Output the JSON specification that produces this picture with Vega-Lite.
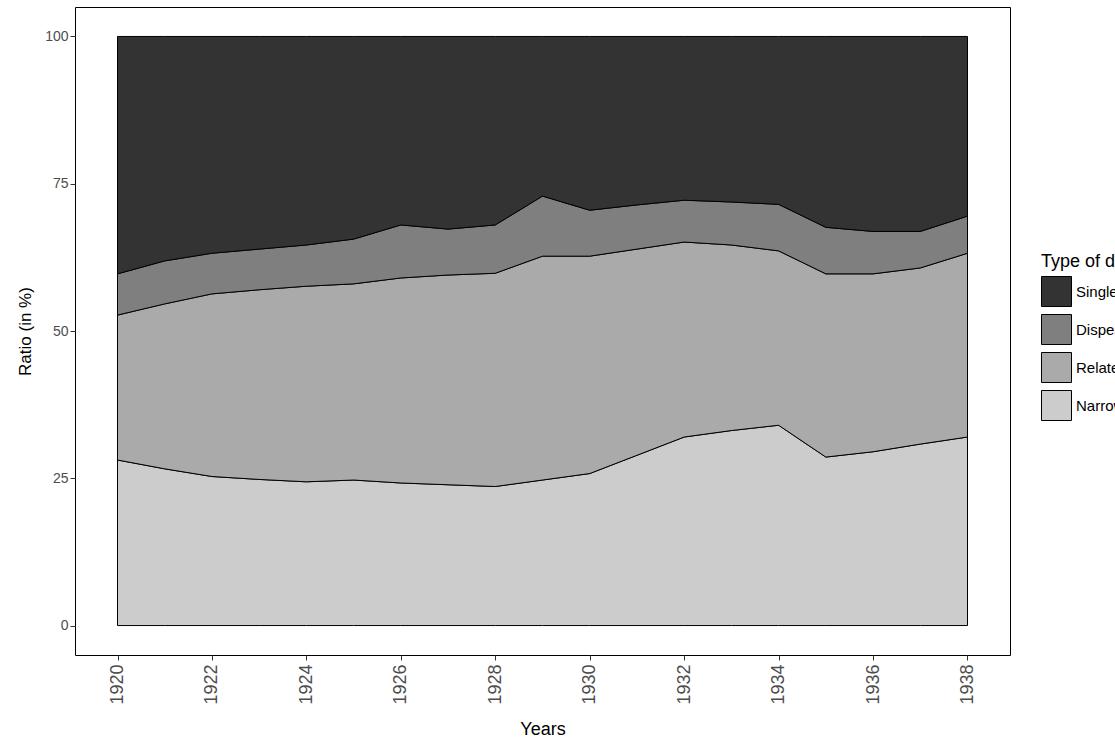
{
"$schema":"https://vega.github.io/schema/vega-lite/v6.json",
"width":935,"height":648,
"padding":{"left":16,"top":7,"right":0,"bottom":0},
"background":"white",
"config":{"view":{"stroke":"black","strokeWidth":1},"font":"Liberation Sans"},
"data":{"values":[
{"year":1920,"Na":28.1,"Re":24.6,"Dis":7.0,"Sin":40.3},
{"year":1921,"Na":26.6,"Re":28.0,"Dis":7.3,"Sin":38.1},
{"year":1922,"Na":25.3,"Re":31.0,"Dis":6.9,"Sin":36.8},
{"year":1923,"Na":24.8,"Re":32.2,"Dis":6.9,"Sin":36.1},
{"year":1924,"Na":24.4,"Re":33.2,"Dis":7.0,"Sin":35.4},
{"year":1925,"Na":24.7,"Re":33.3,"Dis":7.6,"Sin":34.4},
{"year":1926,"Na":24.2,"Re":34.8,"Dis":9.0,"Sin":32.0},
{"year":1927,"Na":23.9,"Re":35.6,"Dis":7.8,"Sin":32.7},
{"year":1928,"Na":23.6,"Re":36.2,"Dis":8.2,"Sin":32.0},
{"year":1929,"Na":24.7,"Re":38.0,"Dis":10.2,"Sin":27.1},
{"year":1930,"Na":25.8,"Re":36.9,"Dis":7.8,"Sin":29.5},
{"year":1931,"Na":28.9,"Re":35.0,"Dis":7.5,"Sin":28.6},
{"year":1932,"Na":32.0,"Re":33.1,"Dis":7.1,"Sin":27.8},
{"year":1933,"Na":33.1,"Re":31.5,"Dis":7.3,"Sin":28.1},
{"year":1934,"Na":34.0,"Re":29.6,"Dis":7.9,"Sin":28.5},
{"year":1935,"Na":28.6,"Re":31.1,"Dis":7.9,"Sin":32.4},
{"year":1936,"Na":29.5,"Re":30.2,"Dis":7.2,"Sin":33.1},
{"year":1937,"Na":30.8,"Re":29.9,"Dis":6.2,"Sin":33.1},
{"year":1938,"Na":32.0,"Re":31.2,"Dis":6.3,"Sin":30.5}
]},
"transform":[
{"fold":["Na","Re","Dis","Sin"],"as":["k","value"]},
{"lookup":"k","from":{"data":{"values":[
{"k":"Na","type":"Narrow","ord":1},{"k":"Re","type":"Related","ord":2},
{"k":"Dis","type":"Dispersed","ord":3},{"k":"Sin","type":"Single","ord":4}]},"key":"k","fields":["type","ord"]}}
],
"mark":{"type":"area","stroke":"black","strokeWidth":1,"opacity":1},
"encoding":{
"x":{"field":"year","type":"quantitative","scale":{"domain":[1919.1,1938.9],"nice":false,"zero":false},
 "axis":{"values":[1920,1922,1924,1926,1928,1930,1932,1934,1936,1938],"format":"d","labelAngle":-90,"labelAlign":"right","labelBaseline":"middle","labelFontSize":18,"labelColor":"#4d4d4d","title":"Years","titleFontSize":18,"titleFontWeight":"normal","titleColor":"black","grid":false,"domain":false,"tickColor":"#333","tickSize":5,"labelPadding":4,"titlePadding":16}},
"y":{"field":"value","type":"quantitative","stack":"zero","scale":{"domain":[-5,105],"nice":false},
 "axis":{"values":[0,25,50,75,100],"labelFontSize":14,"labelColor":"#4d4d4d","title":"Ratio (in %)","titleFontSize":17,"titleFontWeight":"normal","titleColor":"black","grid":false,"domain":false,"tickColor":"#333","tickSize":5,"titlePadding":10}},
"order":{"field":"ord","type":"quantitative"},
"color":{"field":"type","type":"nominal","sort":["Single","Dispersed","Related","Narrow"],
 "scale":{"domain":["Single","Dispersed","Related","Narrow"],"range":["#333333","#7f7f7f","#aaaaaa","#cccccc"]},
 "legend":{"title":"Type of diversification","titleFontSize":18,"titleFontWeight":"normal","titleColor":"black","labelFontSize":15,"labelColor":"black","symbolType":"square","symbolSize":900,"symbolStrokeColor":"black","symbolStrokeWidth":1,"rowPadding":3,"padding":0,"orient":"none","legendX":966,"legendY":246}}
}
}
